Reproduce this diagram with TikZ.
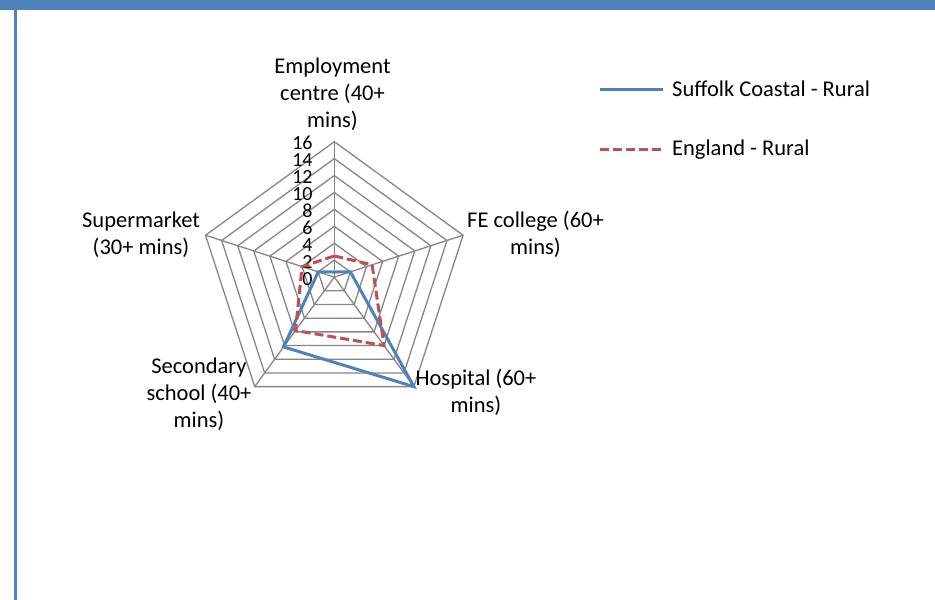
\documentclass[tikz,border=0pt]{standalone}
\usepackage{fontspec}
\setmainfont{Carlito}
\definecolor{serieblue}{HTML}{4F81BD}
\definecolor{seriered}{HTML}{C0504D}
\definecolor{gridgray}{HTML}{868686}

\begin{document}
\begin{tikzpicture}[x=1pt, y=1pt,
    axislabel/.style = {align=center, inner sep=0pt, anchor=base,
      font=\fontsize{22.5}{27}\selectfont},
    ticklabel/.style = {anchor=east, inner sep=0pt,
      font=\fontsize{20}{20}\selectfont},
    legendtext/.style = {anchor=base west, inner sep=0pt,
      font=\fontsize{22.5}{27}\selectfont},
    gridline/.style = {draw=gridgray, line width=1.3pt},
    suffolk/.style = {draw=serieblue, line width=3pt},
    england/.style = {draw=seriered, line width=3pt, dash pattern=on 9pt off 4pt}]
  \useasboundingbox (0,0) rectangle (935,600);
  % frame
  \fill[serieblue] (0,590) rectangle (935,600);
  \fill[serieblue] (14,0) rectangle (17,590);

  % web, 8 rings of 2 each
  \begin{scope}[shift={(334.3,322.9)}]
    \coordinate (c) at (0,0);
    \foreach \k [evaluate=\k as \r using \k*16.925] in {1,...,8}
      \draw[gridline] (90:\r) -- (18:\r) -- (-54:\r) -- (-126:\r) -- (162:\r) -- cycle;
    \foreach \a in {90,18,-54,-126,162}
      \draw[gridline] (c) -- (\a:135.4);
    \foreach \k [evaluate=\k as \v using int(2*\k)] in {0,...,8}
      \node[ticklabel] (tick\v) at (-21.5,\k*16.925-1.5) {\v};

    % series
    \draw[suffolk] (90:0.6*8.4625) -- (18:2*8.4625) -- (-54:16*8.4625)
      -- (-126:10.2*8.4625) -- (162:2*8.4625) -- cycle;
    \draw[england] (90:2.5*8.4625) -- (18:4.7*8.4625) -- (-54:10*8.4625)
      -- (-126:7.8*8.4625) -- (162:4*8.4625) -- cycle;
  \end{scope}

  % axis names (base = last line)
  \node[axislabel] (employment) at (332.5,472) {Employment\\centre (40+\\mins)};
  \node[axislabel] (fecollege) at (535.5,345) {FE college (60+\\mins)};
  \node[axislabel] (hospital) at (476,187) {Hospital (60+\\mins)};
  \node[axislabel] (secondary) at (199,172) {Secondary\\school (40+\\mins)};
  \node[axislabel] (supermarket) at (141,345) {Supermarket\\(30+ mins)};

  % legend
  \coordinate (keyA) at (600,510);
  \coordinate (keyB) at (600,450);
  \draw[suffolk] (keyA) -- ++(63,0);
  \draw[england] (keyB) -- ++(63,0);
  \node[legendtext] (suffolkkey) at (672,503) {Suffolk Coastal - Rural};
  \node[legendtext] (englandkey) at (672,444) {England - Rural};
\end{tikzpicture}
\end{document}
